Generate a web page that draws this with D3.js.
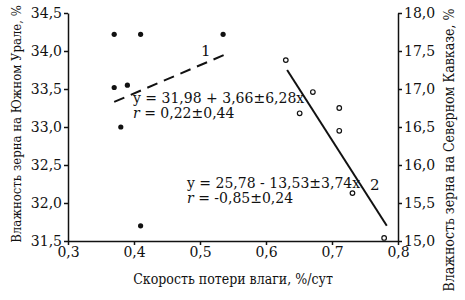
<html>

<head>
  <meta charset="utf-8">
  <title>Влажность зерна и скорость потери влаги</title>
  <script type="text/javascript" src="https://cdn.jsdelivr.net/npm/d3@7"></script>
  <style>
    body { margin: 0; background: #fff; }
    svg text { font-family: "DejaVu Serif", "Liberation Serif", serif !important; fill: #111; }
    svg text.title { font-family: "DejaVu Serif Condensed", "DejaVu Serif", serif !important; font-stretch: condensed; }
    .axis path, .axis line { stroke: #111; stroke-width: 1.5; }
  </style>
</head>

<body>
  <script type="text/javascript">
    // Размер
    const w = 465;
    const h = 300;

    // Южный Урал (левая ось, точки)
    const rateUral = [0.37, 0.41, 0.535, 0.37, 0.39, 0.38, 0.41];
    const moistUral = [34.22, 34.22, 34.22, 33.52, 33.55, 33.0, 31.70];
    // Северный Кавказ (правая ось, кружки)
    const rateCaucasus = [0.63, 0.671, 0.651, 0.711, 0.711, 0.731, 0.779];
    const moistCaucasus = [17.38, 16.96, 16.68, 16.75, 16.45, 15.63, 15.04];

    // Линии регрессии (концы)
    const trendUralX = [0.37, 0.537];
    const trendUralY = [33.33, 33.95];
    const trendCaucasusX = [0.632, 0.783];
    const trendCaucasusY = [17.25, 15.2];

    // Подписи делений
    const xTicks = [0.3, 0.4, 0.5, 0.6, 0.7, 0.8];
    const leftTicks = [31.5, 32.0, 32.5, 33.0, 33.5, 34.0, 34.5];
    const rightTicks = [15.0, 15.5, 16.0, 16.5, 17.0, 17.5, 18.0];

    const ru = d3.formatLocale({ decimal: ",", thousands: " ", grouping: [3], currency: ["", ""] });
    const fmt = ru.format(".1f");

    // Шкалы
    const xScale = d3.scaleLinear().domain([0.3, 0.8]).range([68, 398]);
    const yLeft = d3.scaleLinear().domain([31.5, 34.5]).range([241, 13]);
    const yRight = d3.scaleLinear().domain([15, 18]).range([241, 13]);

    const svg = d3.select("body")
      .append("svg")
      .attr("width", w)
      .attr("height", h);

    const tickText = g => g.selectAll("text").attr("font-size", 14).attr("fill", "#111");

    // Оси
    svg.append("g")
      .attr("class", "axis")
      .attr("transform", "translate(0,241)")
      .call(d3.axisBottom(xScale).tickValues(xTicks).tickFormat(fmt).tickSizeInner(4).tickSizeOuter(0).tickPadding(2))
      .call(tickText);

    svg.append("g")
      .attr("class", "axis")
      .attr("transform", "translate(68,0)")
      .call(d3.axisLeft(yLeft).tickValues(leftTicks).tickFormat(fmt).tickSizeInner(4).tickSizeOuter(0).tickPadding(2))
      .call(tickText);

    svg.append("g")
      .attr("class", "axis")
      .attr("transform", "translate(398,0)")
      .call(d3.axisRight(yRight).tickValues(rightTicks).tickFormat(fmt).tickSizeInner(4).tickSizeOuter(0).tickPadding(2))
      .call(tickText);

    // Подписи осей
    svg.append("text")
      .attr("class", "title")
      .attr("transform", "translate(21,124) rotate(-90)")
      .attr("text-anchor", "middle")
      .attr("font-size", 13)
      .text("Влажность зерна на Южном Урале, %");

    svg.append("text")
      .attr("class", "title")
      .attr("transform", "translate(454,150) rotate(-90)")
      .attr("text-anchor", "middle")
      .attr("font-size", 14)
      .text("Влажность зерна на Северном Кавказе, %");

    svg.append("text")
      .attr("class", "title")
      .attr("x", 233)
      .attr("y", 284)
      .attr("text-anchor", "middle")
      .attr("font-size", 14)
      .text("Скорость потери влаги, %/сут");

    // Линии регрессии
    const line = (ys) => d3.line().x(d => xScale(d[0])).y(d => ys(d[1]));

    svg.append("path")
      .datum(d3.zip(trendUralX, trendUralY))
      .attr("d", line(yLeft))
      .attr("fill", "none")
      .attr("stroke", "#111")
      .attr("stroke-width", 2)
      .attr("stroke-dasharray", "11,7");

    svg.append("path")
      .datum(d3.zip(trendCaucasusX, trendCaucasusY))
      .attr("d", line(yRight))
      .attr("fill", "none")
      .attr("stroke", "#111")
      .attr("stroke-width", 2);

    // Точки
    svg.selectAll("circle.ural")
      .data(d3.zip(rateUral, moistUral))
      .enter()
      .append("circle")
      .attr("class", "ural")
      .attr("cx", d => xScale(d[0]))
      .attr("cy", d => yLeft(d[1]))
      .attr("r", 2.6)
      .attr("fill", "#111");

    svg.selectAll("circle.cauc")
      .data(d3.zip(rateCaucasus, moistCaucasus))
      .enter()
      .append("circle")
      .attr("class", "cauc")
      .attr("cx", d => xScale(d[0]))
      .attr("cy", d => yRight(d[1]))
      .attr("r", 2.3)
      .attr("fill", "#fff")
      .attr("stroke", "#111")
      .attr("stroke-width", 1.2);

    // Номера линий
    svg.append("text").attr("x", 201).attr("y", 56).attr("font-size", 15).text("1");
    svg.append("text").attr("x", 370).attr("y", 190).attr("font-size", 15).text("2");

    // Уравнения
    function equation(x, y, eq, r) {
      svg.append("text").attr("x", x).attr("y", y).attr("font-size", 14).text(eq);
      const t = svg.append("text").attr("x", x).attr("y", y + 15).attr("font-size", 14);
      t.append("tspan").attr("font-style", "italic").text("r");
      t.append("tspan").text(" = " + r);
    }
    equation(133, 103, "y = 31,98 + 3,66±6,28x", "0,22±0,44");
    equation(187, 188, "y = 25,78 - 13,53±3,74x", "-0,85±0,24");
  </script>
</body>

</html>
